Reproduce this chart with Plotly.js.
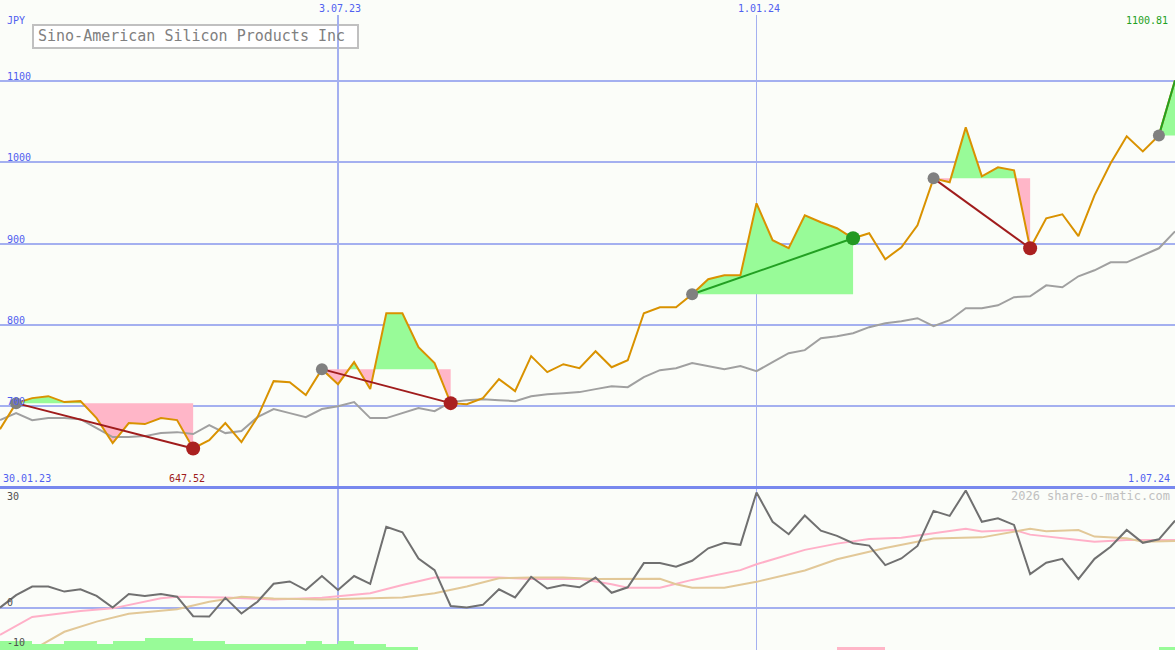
<!DOCTYPE html>
<html>
<head>
<meta charset="utf-8">
<script src="https://cdn.plot.ly/plotly-3.0.1.min.js"></script>
<style>html,body{margin:0;padding:0;background:#fbfdf9;}#chart{width:1175px;height:650px;}</style>
</head>
<body>
<div id="chart"></div>
<script>
// ---- data ----
const dates = ["2023-02-06","2023-02-13","2023-02-20","2023-02-27","2023-03-06","2023-03-13","2023-03-20","2023-03-27",
"2023-04-03","2023-04-10","2023-04-17","2023-04-24","2023-05-01","2023-05-08","2023-05-15","2023-05-22","2023-05-29",
"2023-06-05","2023-06-12","2023-06-19","2023-06-26","2023-07-03","2023-07-10","2023-07-17","2023-07-24","2023-07-31",
"2023-08-07","2023-08-14","2023-08-21","2023-08-28","2023-09-04","2023-09-11","2023-09-18","2023-09-25","2023-10-02",
"2023-10-09","2023-10-16","2023-10-23","2023-10-30","2023-11-06","2023-11-13","2023-11-20","2023-11-27","2023-12-04",
"2023-12-11","2023-12-18","2023-12-25","2024-01-01","2024-01-08","2024-01-15","2024-01-22","2024-01-29","2024-02-05",
"2024-02-12","2024-02-19","2024-02-26","2024-03-04","2024-03-11","2024-03-18","2024-03-25","2024-04-01","2024-04-08",
"2024-04-15","2024-04-22","2024-04-29","2024-05-06","2024-05-13","2024-05-20","2024-05-27","2024-06-03","2024-06-10",
"2024-06-17","2024-06-24","2024-07-01"];

const price = [671.3,703.3,709.5,711.9,704.6,705.8,684.9,654.1,678.7,677.5,684.9,682.4,647.52,657.8,678.7,655.3,686.1,
730.4,729.2,713.2,745.2,726.7,753.8,720.6,814.1,814.1,772.2,752.6,703.3,702.1,709.5,732.9,718.1,761.2,741.5,751.3,746.4,
767.3,747.6,756.2,814.1,821.5,821.5,837.5,856,860.9,860.9,949.5,904,894.2,934.8,926.2,918.8,906.4,912.6,880.6,895.4,
922.5,980.3,975.4,1043.1,982.8,993.8,990.1,894.2,931.1,936,909,959.4,998.8,1032,1013.5,1033.2,1100.81];

const avgLine = [682.4,691,682.4,684.9,684.9,683.6,672.6,661.5,661.5,662.7,666.4,667.6,665.2,676.2,666.4,668.9,686.1,
696,691,686.1,696,699.6,704.6,684.9,684.9,691,697.2,693.5,704.6,707,708.2,707,705.8,711.9,714.4,715.6,716.9,720.6,
724.2,723,735.3,743.9,746.4,752.6,748.9,745.2,748.9,742.7,753.8,764.9,768.6,783.3,785.8,789.5,796.9,801.8,804.3,808,
798.1,805.5,820.2,820.2,823.9,833.8,835,848.5,846.1,859.6,867,876.8,876.8,885.5,894.1,915];

// signals: start index, end index
const sigStart = [1, 20, 43, 58, 72];
const sigEnd   = [12, 28, 53, 64, 73];
const sigOpen  = [false, false, false, false, true];

// lower panel
const momentum = [0.1,3.3,5.5,5.5,4.2,4.8,3.1,0.1,3.6,3.1,3.6,2.9,-2.1,-2.2,2.6,-1.4,1.6,6.2,6.8,4.6,8.2,4.6,8.2,6.2,
20.8,19.4,12.7,9.7,0.5,0.1,0.8,4.8,2.7,8.0,5.0,5.9,5.3,7.8,3.9,5.3,11.5,11.5,10.6,12.1,15.3,16.7,16.2,29.6,22.1,18.9,
23.7,19.8,18.5,16.6,16.0,11.0,12.7,15.9,24.9,23.6,30.1,22.1,23.0,21.3,8.7,11.6,12.6,7.4,12.6,15.7,20,16.7,17.6,22.4];

const pinkIdx = [0,2,5,7,10,11,14,17,20,23,25,27,31,33,36,38,39,41,43,46,47,50,52,54,56,60,61,63,64,67,68,70,73];
const pinkVals = [-6.9,-2.3,-0.8,-0.1,2.5,2.9,2.7,2.2,2.6,3.8,5.9,7.8,7.8,7.4,7.5,6.1,5.2,5.2,7.2,9.7,11.2,14.9,16.5,
17.7,18.0,20.3,19.6,20,18.8,17.4,17,17.4,17.4];

const tanIdx = [1,2,4,6,8,11,13,15,17,20,23,25,27,29,31,33,35,37,41,42,43,45,47,50,52,55,58,61,64,65,67,68,70,71,73];
const tanVals = [-13.5,-10.8,-6.1,-3.5,-1.5,-0.3,1.6,2.9,2.4,2.2,2.5,2.7,3.8,5.5,7.6,7.8,7.8,7.4,7.5,6.1,5.2,5.2,6.7,
9.6,12.5,15.4,17.8,18.1,20.3,19.7,20,18.3,17.9,17,17.2];

const barIdx = [0,1,2,3,4,5,6,7,8,9,10,11,12,13,14,15,16,17,18,19,20,21,22,23,24,25,52,53,54,72];
const barVals = [3,3,2,2,3,3,2,3,3,4,4,4,3,3,2,2,2,2,2,3,2,3,2,2,1,1,-1,-1,-1,1];

const yTicks = [700, 800, 900, 1000, 1100];
const topDateLabels = ["2023-07-03", "2024-01-01"];
const topDateText = ["3.07.23", "1.01.24"];

// ---- styles ----
const FONT = "DejaVu Sans Mono, monospace";
const BLUE = "#5060f0";
const GRID = "#a4b0f0";
const GREEN_FILL = "#98fb98";
const PINK_FILL = "#ffb6c8";
const ORANGE = "#d99200";
const W = 1175, H = 650;
const px = v => v / W;
const py = v => 1 - v / H;

const tms = i => new Date(dates[i] + "T00:00:00Z").getTime();

function regionPoly(s, e, sign) {
  const lvl = price[s];
  const xs = [tms(s)], ys = [lvl];
  for (let i = s; i <= e; i++) {
    if (i > s) {
      const d0 = sign * (price[i - 1] - lvl), d1 = sign * (price[i] - lvl);
      if (d0 * d1 < 0) {
        const f = d0 / (d0 - d1);
        xs.push(tms(i - 1) + f * (tms(i) - tms(i - 1)));
        ys.push(lvl);
      }
    }
    xs.push(tms(i));
    ys.push(sign * (price[i] - lvl) > 0 ? price[i] : lvl);
  }
  xs.push(tms(e)); ys.push(lvl);
  return {x: xs, y: ys};
}

const traces = [];
// fills
for (let k = 0; k < sigStart.length; k++) {
  const g = regionPoly(sigStart[k], sigEnd[k], 1);
  const p = regionPoly(sigStart[k], sigEnd[k], -1);
  traces.push({x: g.x, y: g.y, type: "scatter", mode: "lines", line: {width: 0}, fill: "toself",
    fillcolor: GREEN_FILL, hoverinfo: "skip", xaxis: "x", yaxis: "y"});
  traces.push({x: p.x, y: p.y, type: "scatter", mode: "lines", line: {width: 0}, fill: "toself",
    fillcolor: PINK_FILL, hoverinfo: "skip", xaxis: "x", yaxis: "y"});
}
// average line
traces.push({x: dates, y: avgLine, type: "scatter", mode: "lines", line: {color: "#a0a0a0", width: 2},
  xaxis: "x", yaxis: "y", hoverinfo: "skip"});
// price line
traces.push({x: dates, y: price, type: "scatter", mode: "lines", line: {color: ORANGE, width: 2},
  xaxis: "x", yaxis: "y", hoverinfo: "skip"});
// trend lines and dots
for (let k = 0; k < sigStart.length; k++) {
  const s = sigStart[k], e = sigEnd[k];
  const win = price[e] >= price[s];
  traces.push({x: [dates[s], dates[e]], y: [price[s], price[e]], type: "scatter", mode: "lines",
    line: {color: win ? "#22a022" : "#a01c1c", width: 2}, xaxis: "x", yaxis: "y", hoverinfo: "skip"});
}
traces.push({x: sigStart.map(i => dates[i]), y: sigStart.map(i => price[i]), type: "scatter", mode: "markers",
  marker: {color: "#808080", size: 12}, xaxis: "x", yaxis: "y", hoverinfo: "skip", cliponaxis: false});
const closed = sigEnd.filter((e, k) => !sigOpen[k]);
const closedS = sigStart.filter((s, k) => !sigOpen[k]);
traces.push({x: closed.map(i => dates[i]), y: closed.map(i => price[i]), type: "scatter", mode: "markers",
  marker: {color: closed.map((e, k) => price[e] >= price[closedS[k]] ? "#229922" : "#aa2020"), size: 14},
  xaxis: "x", yaxis: "y", hoverinfo: "skip"});

// lower panel
traces.push({x: barIdx.map(i => dates[i]), y: barVals.map(v => Math.abs(v)), type: "bar",
  offset: 0, width: 7 * 86400000, marker: {color: barVals.map(v => v >= 0 ? GREEN_FILL : PINK_FILL), line: {width: 0}},
  xaxis: "x2", yaxis: "y3", hoverinfo: "skip"});
traces.push({x: pinkIdx.map(i => dates[i]), y: pinkVals, type: "scatter", mode: "lines",
  line: {color: "#ffb0c8", width: 2}, xaxis: "x2", yaxis: "y2", hoverinfo: "skip"});
traces.push({x: tanIdx.map(i => dates[i]), y: tanVals, type: "scatter", mode: "lines",
  line: {color: "#e2c898", width: 2}, xaxis: "x2", yaxis: "y2", hoverinfo: "skip"});
traces.push({x: dates, y: momentum, type: "scatter", mode: "lines",
  line: {color: "#707070", width: 2}, xaxis: "x2", yaxis: "y2", hoverinfo: "skip"});

// annotations
const ann = [];
const txt = (text, x, y, opts) => Object.assign({text, x, y, xref: "paper", yref: "paper", showarrow: false,
  xanchor: "left", yanchor: "middle", font: {family: FONT, size: 10, color: BLUE}}, opts || {});
ann.push(txt("JPY", px(5), py(20)));
ann.push(txt("Sino-American Silicon Products Inc", px(36), py(36.5), {font: {family: FONT, size: 15, color: "#808080"}}));
yTicks.forEach(v => ann.push({text: String(v), x: px(5), y: v, xref: "paper", yref: "y", showarrow: false,
  xanchor: "left", yanchor: "bottom", yshift: -3, font: {family: FONT, size: 10, color: BLUE}}));
topDateLabels.forEach((d, i) => ann.push({text: topDateText[i], x: d, y: py(8), xref: "x", yref: "paper",
  showarrow: false, xanchor: "center", yanchor: "middle", xshift: 2, font: {family: FONT, size: 10, color: BLUE}}));
ann.push(txt(price[price.length - 1].toFixed(2), px(1170), py(21), {xanchor: "right", font: {family: FONT, size: 10, color: "#22a022"}}));
ann.push({text: price[12].toFixed(2), x: dates[12], y: py(478), xref: "x", yref: "paper", showarrow: false,
  xanchor: "center", yanchor: "middle", xshift: -6, font: {family: FONT, size: 10, color: "#a01c1c"}});
ann.push(txt("30.01.23", px(1), py(478)));
ann.push(txt("1.07.24", px(1172), py(478), {xanchor: "right"}));
ann.push(txt("30", px(5), py(496), {font: {family: FONT, size: 10, color: "#505050"}}));
ann.push(txt("0", px(5), py(602), {font: {family: FONT, size: 10, color: "#505050"}}));
ann.push(txt("-10", px(5), py(642), {font: {family: FONT, size: 10, color: "#505050"}}));
ann.push(txt("2026 share-o-matic.com", px(1172), py(496), {xanchor: "right", font: {family: FONT, size: 12, color: "#c0c0c0"}}));

const shapes = [
  {type: "rect", xref: "paper", yref: "paper", x0: px(33), x1: px(358), y0: py(48), y1: py(25),
   line: {color: "#c0c0c0", width: 2}, fillcolor: "#ffffff", layer: "below"},
  {type: "line", xref: "x", yref: "paper", x0: "2023-07-03", x1: "2023-07-03", y0: 0, y1: py(15),
   line: {color: GRID, width: 2}, layer: "below"},
  {type: "line", xref: "x", yref: "paper", x0: "2024-01-01", x1: "2024-01-01", y0: 0, y1: py(15),
   line: {color: GRID, width: 1}, layer: "below"},
  {type: "line", xref: "paper", yref: "paper", x0: 0, x1: 1, y0: py(487.5), y1: py(487.5),
   line: {color: "#7888ee", width: 3}, layer: "above"}
];

const layout = {
  width: W, height: H, margin: {l: 0, r: 0, t: 0, b: 0, pad: 0},
  paper_bgcolor: "#fbfdf9", plot_bgcolor: "#fbfdf9", showlegend: false,
  xaxis: {domain: [0, 1], anchor: "y", range: ["2023-02-06", "2024-07-01"], type: "date",
    showgrid: false, zeroline: false, showticklabels: false, showline: false, ticks: ""},
  yaxis: {domain: [1 - 487 / H, 1], range: [600, 1200], tickvals: yTicks, showgrid: true, gridcolor: GRID,
    gridwidth: 2, zeroline: false, showticklabels: false, ticks: ""},
  xaxis2: {domain: [0, 1], anchor: "y2", matches: "x", type: "date", showgrid: false, zeroline: false,
    showticklabels: false, showline: false, ticks: ""},
  yaxis2: {domain: [0, 161 / H], range: [-10.77, 30.5], tickvals: [0], showgrid: true, gridcolor: GRID,
    gridwidth: 2, zeroline: false, showticklabels: false, ticks: ""},
  yaxis3: {domain: [0, 161 / H], overlaying: "y2", range: [0, 161 / 3], visible: false, showgrid: false},
  annotations: ann, shapes: shapes, bargap: 0
};

Plotly.newPlot("chart", traces, layout, {staticPlot: true, displayModeBar: false});
</script>
</body>
</html>
